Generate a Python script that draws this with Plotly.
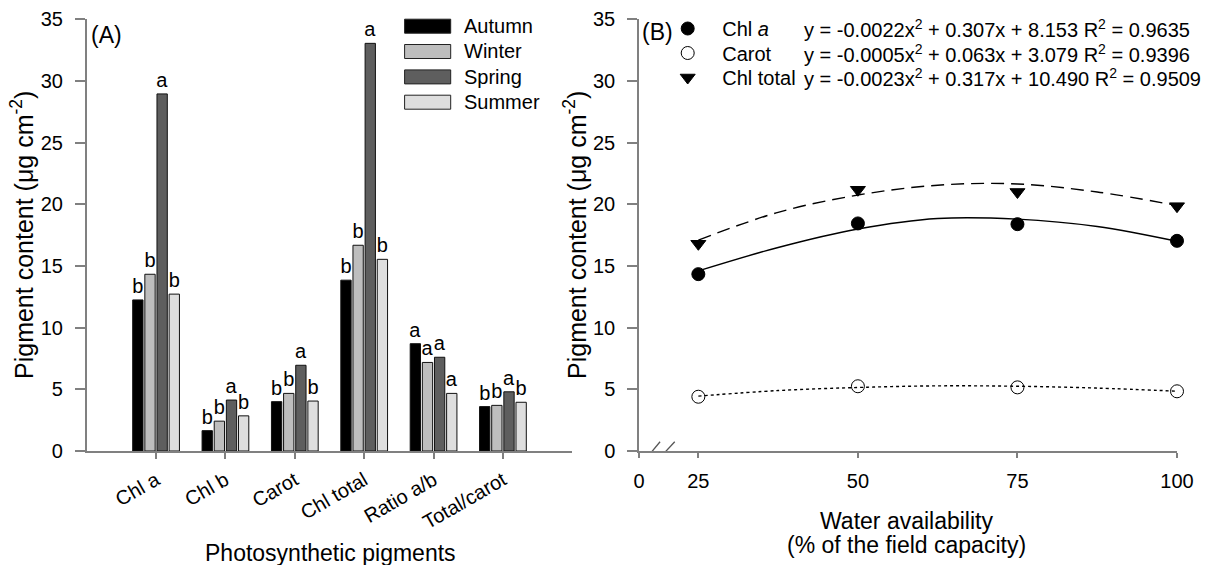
import plotly.graph_objects as go

W, H = 1205, 565
FONT = "Liberation Sans, Arial, sans-serif"

# ---------------- data: panel A ----------------
pigments = ["Chl a", "Chl b", "Carot", "Chl total", "Ratio a/b", "Total/carot"]
seasons = ["Autumn", "Winter", "Spring", "Summer"]
autumn = [12.25, 1.65, 4.0, 13.85, 8.7, 3.6]
winter = [14.33, 2.42, 4.67, 16.68, 7.18, 3.7]
spring = [28.95, 4.13, 6.95, 33.05, 7.6, 4.8]
summer = [12.72, 2.85, 4.05, 15.54, 4.67, 3.95]
autumn_letters = ["b", "b", "b", "b", "a", "b"]
winter_letters = ["b", "b", "b", "b", "a", "b"]
spring_letters = ["a", "a", "a", "a", "a", "a"]
summer_letters = ["b", "b", "b", "b", "a", "b"]
season_colors = ["#000000", "#bebebe", "#5e5e5e", "#dedede"]

# ---------------- data: panel B ----------------
water = [25, 50, 75, 100]
chla_pts = [14.34, 18.45, 18.39, 17.04]
carot_pts = [4.40, 5.25, 5.16, 4.84]
chltot_pts = [16.8, 21.18, 21.0, 19.85]
fit_x = [25, 37.5, 50, 62.5, 75, 87.5, 100]
chla_fit = [14.6, 16.5, 18.0, 18.85, 18.8, 18.2, 17.0]
carot_fit = [4.45, 4.9, 5.15, 5.28, 5.25, 5.1, 4.85]
chltot_fit = [17.1, 19.35, 20.75, 21.55, 21.65, 21.0, 19.9]
equations = [
    "y = -0.0022x<sup>2</sup> + 0.307x + 8.153 R<sup>2</sup> = 0.9635",
    "y = -0.0005x<sup>2</sup> + 0.063x + 3.079 R<sup>2</sup> = 0.9396",
    "y = -0.0023x<sup>2</sup> + 0.317x + 10.490 R<sup>2</sup> = 0.9509",
]
series_names = ["Chl <i>a</i>", "Carot", "Chl total"]
x_ticks = [25, 50, 75, 100]
x_tick_text = ["0", "25", "50", "75", "100"]

# ---------------- geometry helpers (pixels -> paper) ----------------
def px(x):
    return x / W

def py(y):
    return 1 - y / H

AX_COLOR = "#808080"

fig = go.Figure()

for name, vals, letters, col in zip(
    seasons,
    [autumn, winter, spring, summer],
    [autumn_letters, winter_letters, spring_letters, summer_letters],
    season_colors,
):
    fig.add_trace(go.Bar(
        x=pigments, y=vals, name=name, text=letters,
        textposition="outside", constraintext="none", cliponaxis=False,
        textfont=dict(size=20, color="black", family=FONT),
        marker=dict(color=col, line=dict(color="#111111", width=1)),
        showlegend=False, xaxis="x", yaxis="y",
    ))

# fitted curves
for ys, dash in zip([chla_fit, carot_fit, chltot_fit], ["solid", "dot", "13px,7px"]):
    fig.add_trace(go.Scatter(
        x=fit_x, y=ys, mode="lines", line=dict(color="black", width=1.4, dash=dash, shape="spline"),
        showlegend=False, xaxis="x2", yaxis="y2", hoverinfo="skip",
    ))

# points
marker_styles = [
    dict(symbol="circle", size=13, color="black", line=dict(color="black", width=1)),
    dict(symbol="circle-open", size=13, color="black", line=dict(color="black", width=1)),
    dict(symbol="triangle-down", size=13, color="black", line=dict(color="black", width=1)),
]
legend_ids = ["legend2", "legend3", "legend4"]
for ys, ms, nm, lg in zip([chla_pts, carot_pts, chltot_pts], marker_styles, series_names, legend_ids):
    fig.add_trace(go.Scatter(
        x=water, y=ys, mode="markers", marker=ms, name=nm, legend=lg,
        cliponaxis=False, xaxis="x2", yaxis="y2",
    ))

row_y = [28.5, 53, 77.5]
ITEMW = 59
leg_x = px(687.7 - (ITEMW / 2 + 5))
legends = {}
for lg, ry in zip(legend_ids, row_y):
    legends[lg] = dict(
        x=leg_x, xanchor="left", y=py(ry), yanchor="middle",
        font=dict(size=20, color="black", family=FONT),
        bgcolor="rgba(0,0,0,0)", itemwidth=ITEMW, borderwidth=0,
        tracegroupgap=0,
    )

axis_common = dict(
    showline=True, linecolor=AX_COLOR, linewidth=1.5, ticks="outside",
    tickcolor=AX_COLOR, tickwidth=1.5, showgrid=False, zeroline=False,
    tickfont=dict(size=20, color="black", family=FONT),
)

fig.update_layout(
    width=W, height=H, margin=dict(l=0, r=0, t=0, b=0),
    paper_bgcolor="white", plot_bgcolor="white",
    font=dict(family=FONT, color="black"),
    barmode="group", bargap=0.30, bargroupgap=0.15,
    xaxis=dict(domain=[px(86.7), px(572.3)], range=[-1, 6], type="category",
               ticklen=6, tickangle=-30, automargin=False, ticklabelstandoff=2,
               **axis_common),
    yaxis=dict(domain=[py(451), py(19.3)], range=[0, 35], dtick=5, ticklen=10,
               automargin=False, ticklabelstandoff=8, **axis_common),
    xaxis2=dict(domain=[px(639), px(1177)], range=[15.7, 100],
                tickvals=[15.7] + x_ticks, ticktext=x_tick_text, ticklen=5,
                automargin=False, ticklabelstandoff=6, anchor="y2", **axis_common),
    yaxis2=dict(domain=[py(451), py(19.3)], range=[0, 35], dtick=5, ticklen=10,
                automargin=False, ticklabelstandoff=8, anchor="x2", **axis_common),
    showlegend=True,
    **legends,
)

annotations = []
# axis titles
for xc in (22, 575):
    annotations.append(dict(x=px(xc), y=py(235), xref="paper", yref="paper", textangle=-90,
                            text="Pigment content (μg cm<sup>-2</sup>)", showarrow=False,
                            font=dict(size=25, family=FONT, color="black"),
                            xanchor="center", yanchor="middle"))
annotations.append(dict(x=px(330), y=py(553), xref="paper", yref="paper",
                        text="Photosynthetic pigments", showarrow=False,
                        font=dict(size=23, family=FONT, color="black"), xanchor="center", yanchor="middle"))
annotations.append(dict(x=px(906), y=py(521), xref="paper", yref="paper",
                        text="Water availability", showarrow=False,
                        font=dict(size=23, family=FONT, color="black"), xanchor="center", yanchor="middle"))
annotations.append(dict(x=px(906), y=py(545), xref="paper", yref="paper",
                        text="(% of the field capacity)", showarrow=False,
                        font=dict(size=23, family=FONT, color="black"), xanchor="center", yanchor="middle"))
# panel labels
annotations.append(dict(x=px(89), y=py(35), xref="paper", yref="paper", text="(A)", showarrow=False,
                        font=dict(size=23, family=FONT, color="black"), xanchor="left", yanchor="middle"))
annotations.append(dict(x=px(640), y=py(32), xref="paper", yref="paper", text="(B)", showarrow=False,
                        font=dict(size=23, family=FONT, color="black"), xanchor="left", yanchor="middle"))
# equations
for eq, ry in zip(equations, row_y):
    annotations.append(dict(x=px(802), y=py(ry), xref="paper", yref="paper", text=eq, showarrow=False,
                            font=dict(size=20, family=FONT, color="black"), xanchor="left", yanchor="middle"))

# left legend (manual swatches)
leg_rows = [26.2, 51.5, 76.9, 102.2]
shapes = []
for nm, col, ry in zip(seasons, season_colors, leg_rows):
    shapes.append(dict(type="rect", xref="paper", yref="paper",
                       x0=px(404.6), x1=px(450.7), y0=py(ry + 7), y1=py(ry - 7),
                       fillcolor=col, line=dict(color="#222222", width=1)))
    annotations.append(dict(x=px(461.5), y=py(ry), xref="paper", yref="paper", text=nm, showarrow=False,
                            font=dict(size=20, family=FONT, color="black"), xanchor="left", yanchor="middle"))

# axis break marks on panel B
for x0, x1 in [(16.6, 19.0), (18.6, 21.3)]:
    shapes.append(dict(type="line", xref="x2", yref="y2", x0=x0, x1=x1, y0=-0.75, y1=0.75,
                       line=dict(color="#555555", width=1.3)))

fig.update_layout(annotations=annotations, shapes=shapes)
fig.write_html("out.html")
